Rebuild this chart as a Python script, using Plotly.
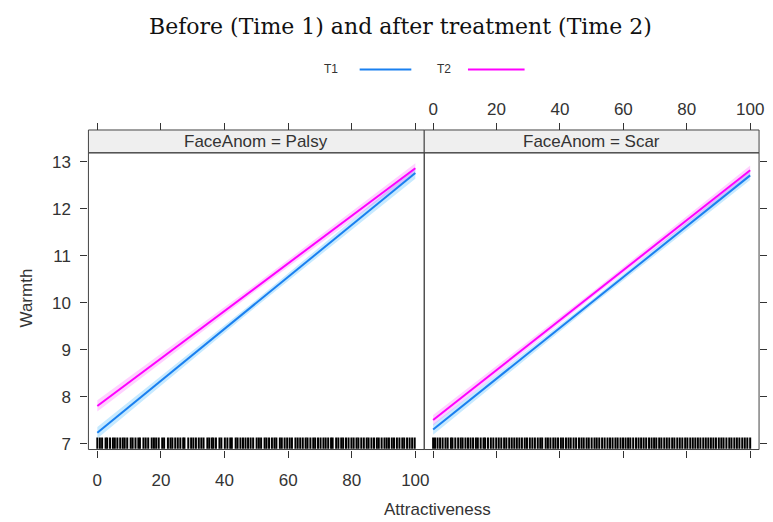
import plotly.graph_objects as go

# ---------------- data ----------------
x_pts = [0, 50, 100]

palsy_t1 = [7.23, 9.99, 12.76]
palsy_t1_lo = [7.11, 9.92, 12.64]
palsy_t1_hi = [7.35, 10.06, 12.88]
palsy_t2 = [7.80, 10.33, 12.86]
palsy_t2_lo = [7.68, 10.26, 12.75]
palsy_t2_hi = [7.92, 10.40, 12.97]

scar_t1 = [7.30, 10.00, 12.71]
scar_t1_lo = [7.19, 9.94, 12.61]
scar_t1_hi = [7.41, 10.06, 12.81]
scar_t2 = [7.50, 10.16, 12.82]
scar_t2_lo = [7.39, 10.10, 12.72]
scar_t2_hi = [7.61, 10.22, 12.92]

palsy_rug = [0, 0.8, 1.5, 2.6, 3.1, 4.0, 4.9, 5.5, 6.3, 7.2, 8.0, 8.6, 9.4, 10.5, 11.1, 12.0,
             12.9, 13.4, 14.5, 15.2, 16.0, 17.1, 17.8, 18.5, 19.3, 20.4, 21.0, 22.2, 23.0, 23.6,
             24.5, 25.3, 26.1, 27.0, 27.4, 28.6, 29.5, 30.2, 31.0, 31.9, 32.7, 33.4, 34.6, 35.2,
             36.0, 36.5, 37.3, 38.4, 39.0, 40.1, 40.9, 41.8, 42.3, 43.5, 44.1, 45.0, 45.8, 46.6,
             47.4, 48.2, 49.0, 50.1, 50.8, 51.5, 52.6, 53.2, 54.0, 54.9, 55.7, 56.3, 57.4, 58.0,
             58.9, 59.7, 60.5, 61.2, 62.3, 63.0, 63.8, 64.6, 65.5, 66.1, 67.0, 67.9, 68.5, 69.4,
             70.2, 71.1, 71.8, 72.6, 73.5, 74.0, 75.1, 75.8, 76.7, 77.3, 78.2, 79.0, 79.9, 80.6,
             81.5, 82.1, 83.0, 83.8, 84.7, 85.3, 86.2, 87.0, 87.9, 88.5, 89.4, 90.3, 91.0, 91.7,
             92.6, 93.3, 94.2, 95.0, 95.9, 96.5, 97.4, 98.2, 99.0, 99.8]

scar_rug = [0, 0.6, 1.4, 2.2, 3.0, 3.9, 4.6, 5.6, 6.1, 7.0, 7.9, 8.7, 9.3, 10.2, 11.0, 11.8,
            12.6, 13.5, 14.1, 15.0, 15.9, 16.4, 17.3, 18.2, 19.0, 19.9, 20.7, 21.5, 22.4, 23.1,
            24.0, 24.8, 25.6, 26.4, 27.2, 28.0, 28.9, 29.6, 30.5, 31.3, 32.1, 33.0, 33.8, 34.4,
            35.5, 36.2, 37.0, 37.9, 38.6, 39.4, 40.3, 41.0, 41.9, 42.7, 43.4, 44.3, 45.1, 46.0,
            46.8, 47.5, 48.4, 49.1, 50.0, 50.9, 51.6, 52.4, 53.3, 54.1, 55.0, 55.8, 56.6, 57.5,
            58.2, 59.1, 59.9, 60.7, 61.5, 62.2, 63.1, 64.0, 64.8, 65.6, 66.4, 67.2, 68.1, 68.9,
            69.7, 70.4, 71.3, 72.0, 72.9, 73.7, 74.5, 75.4, 76.1, 77.0, 77.8, 78.6, 79.5, 80.2,
            81.1, 81.9, 82.7, 83.5, 84.3, 85.2, 86.0, 86.8, 87.6, 88.4, 89.2, 90.1, 90.9, 91.6,
            92.5, 93.4, 94.1, 95.0, 95.8, 96.6, 97.5, 98.3, 99.1, 100.0]

x_ticks = [0, 20, 40, 60, 80, 100]
y_ticks = [7, 8, 9, 10, 11, 12, 13]
panels = ["FaceAnom = Palsy", "FaceAnom = Scar"]
series_names = ["T1", "T2"]

# ---------------- style ----------------
T1_COL = "#1a80f0"
T2_COL = "#ff00ff"
T1_FILL = "rgba(0,160,255,0.22)"
T2_FILL = "rgba(255,0,255,0.18)"
FONT = "Liberation Sans, Arial, sans-serif"
TXT = "#333333"
W, H = 773, 522

L1, R1 = 89 / W, 427 / W
L2, R2 = 427 / W, 764 / W
YB, YT = 1 - 453 / H, 1 - 154 / H
STRIP_TOP = 1 - 131 / H

XR = [-2.8, 102.8]
YR = [6.873, 13.19]
RUG_LO, RUG_HI = 6.89, 7.13

fig = go.Figure()


def add_band(xa, lo, hi, fill):
    fig.add_trace(go.Scatter(x=x_pts, y=lo, xaxis=xa, yaxis="y", mode="lines",
                             line=dict(width=0), showlegend=False, hoverinfo="skip"))
    fig.add_trace(go.Scatter(x=x_pts, y=hi, xaxis=xa, yaxis="y", mode="lines",
                             line=dict(width=0), fill="tonexty", fillcolor=fill,
                             showlegend=False, hoverinfo="skip"))


def add_rug(xa, vals):
    xs, ys = [], []
    for v in vals:
        xs += [v, v, None]
        ys += [RUG_LO, RUG_HI, None]
    fig.add_trace(go.Scatter(x=xs, y=ys, xaxis=xa, yaxis="y", mode="lines",
                             line=dict(color="black", width=2), showlegend=False,
                             hoverinfo="skip"))


# Palsy panel
add_band("x", palsy_t1_lo, palsy_t1_hi, T1_FILL)
add_band("x", palsy_t2_lo, palsy_t2_hi, T2_FILL)
add_rug("x", palsy_rug)
fig.add_trace(go.Scatter(x=x_pts, y=palsy_t1, xaxis="x", yaxis="y", mode="lines",
                         line=dict(color=T1_COL, width=2), name="T1", showlegend=False))
fig.add_trace(go.Scatter(x=x_pts, y=palsy_t2, xaxis="x", yaxis="y", mode="lines",
                         line=dict(color=T2_COL, width=2), name="T2", showlegend=False))

# Scar panel
add_band("x2", scar_t1_lo, scar_t1_hi, T1_FILL)
add_band("x2", scar_t2_lo, scar_t2_hi, T2_FILL)
add_rug("x2", scar_rug)
fig.add_trace(go.Scatter(x=x_pts, y=scar_t1, xaxis="x2", yaxis="y", mode="lines",
                         line=dict(color=T1_COL, width=2), name="T1", showlegend=False))
fig.add_trace(go.Scatter(x=x_pts, y=scar_t2, xaxis="x2", yaxis="y", mode="lines",
                         line=dict(color=T2_COL, width=2), name="T2", showlegend=False))

# dummy traces so the overlay axes are drawn
fig.add_trace(go.Scatter(x=[None], y=[None], xaxis="x3", yaxis="y", showlegend=False, hoverinfo="skip"))
fig.add_trace(go.Scatter(x=[None], y=[None], xaxis="x4", yaxis="y", showlegend=False, hoverinfo="skip"))
fig.add_trace(go.Scatter(x=[None], y=[None], xaxis="x2", yaxis="y2", showlegend=False, hoverinfo="skip"))

tickfont = dict(family=FONT, size=17, color=TXT)
common_x = dict(range=XR, tickvals=x_ticks, ticks="outside", ticklen=7, tickcolor="#333",
                showgrid=False, zeroline=False, showline=False, tickfont=tickfont)

fig.update_layout(
    width=W, height=H,
    margin=dict(l=0, r=0, t=0, b=0),
    paper_bgcolor="white", plot_bgcolor="rgba(0,0,0,0)",
    showlegend=False,
    xaxis=dict(domain=[L1, R1], anchor="y", ticklabelstandoff=8, **common_x),
    xaxis2=dict(domain=[L2, R2], anchor="y", showticklabels=False, **common_x),
    xaxis3=dict(overlaying="x", side="top", anchor="free", position=STRIP_TOP,
                showticklabels=False, **common_x),
    xaxis4=dict(overlaying="x2", side="top", anchor="free", position=STRIP_TOP,
                showticklabels=True, ticklabelstandoff=1, **common_x),
    yaxis=dict(domain=[YB, YT], anchor="x", range=YR, tickvals=y_ticks, ticks="outside",
               ticklen=7, tickcolor="#333", showgrid=False, zeroline=False, showline=False,
               tickfont=tickfont, ticklabelstandoff=6),
    yaxis2=dict(overlaying="y", side="right", anchor="x2", range=YR, tickvals=y_ticks,
                ticks="outside", ticklen=7, tickcolor="#333", showgrid=False, zeroline=False,
                showline=False, showticklabels=False),
)

shapes = []
border = dict(color="#444", width=1)
for (l, r), label in zip([(L1, R1), (L2, R2)], panels):
    shapes.append(dict(type="rect", xref="paper", yref="paper", x0=l, x1=r, y0=YT, y1=STRIP_TOP,
                       fillcolor="#efefef", line=border, layer="below"))
    shapes.append(dict(type="rect", xref="paper", yref="paper", x0=l, x1=r, y0=YB, y1=YT,
                       fillcolor="rgba(0,0,0,0)", line=border))

# legend lines (text before line, lattice style)
shapes.append(dict(type="line", xref="paper", yref="paper", x0=362 / W, x1=414 / W,
                   y0=1 - 70 / H, y1=1 - 70 / H, line=dict(color=T1_COL, width=2)))
shapes.append(dict(type="line", xref="paper", yref="paper", x0=471 / W, x1=528 / W,
                   y0=1 - 70 / H, y1=1 - 70 / H, line=dict(color=T2_COL, width=2)))
fig.update_layout(shapes=shapes)

ann = []
for (l, r), label in zip([(L1, R1), (L2, R2)], panels):
    ann.append(dict(text=label, x=(l + r) / 2, y=(YT + STRIP_TOP) / 2, xref="paper", yref="paper",
                    showarrow=False, font=dict(family=FONT, size=17, color=TXT),
                    xanchor="center", yanchor="middle"))
ann.append(dict(text=series_names[0], x=333 / W, y=1 - 70 / H, xref="paper", yref="paper",
                showarrow=False, font=dict(family=FONT, size=12, color=TXT),
                xanchor="center", yanchor="middle"))
ann.append(dict(text=series_names[1], x=447 / W, y=1 - 70 / H, xref="paper", yref="paper",
                showarrow=False, font=dict(family=FONT, size=12, color=TXT),
                xanchor="center", yanchor="middle"))
ann.append(dict(text="Before (Time 1) and after treatment (Time 2)", x=403 / W, y=1 - 27 / H,
                xref="paper", yref="paper", showarrow=False,
                font=dict(family="DejaVu Serif, serif", size=22, color="#111"),
                xanchor="center", yanchor="middle"))
ann.append(dict(text="Attractiveness", x=440 / W, y=1 - 513 / H, xref="paper", yref="paper",
                showarrow=False, font=dict(family=FONT, size=17, color=TXT),
                xanchor="center", yanchor="middle"))
ann.append(dict(text="Warmth", x=27 / W, y=1 - 300 / H, xref="paper", yref="paper",
                showarrow=False, textangle=-90, font=dict(family=FONT, size=17, color=TXT),
                xanchor="center", yanchor="middle"))
fig.update_layout(annotations=ann)

fig.write_html("out.html", config={"displayModeBar": False},
               post_script="document.body.style.margin='0px';")
